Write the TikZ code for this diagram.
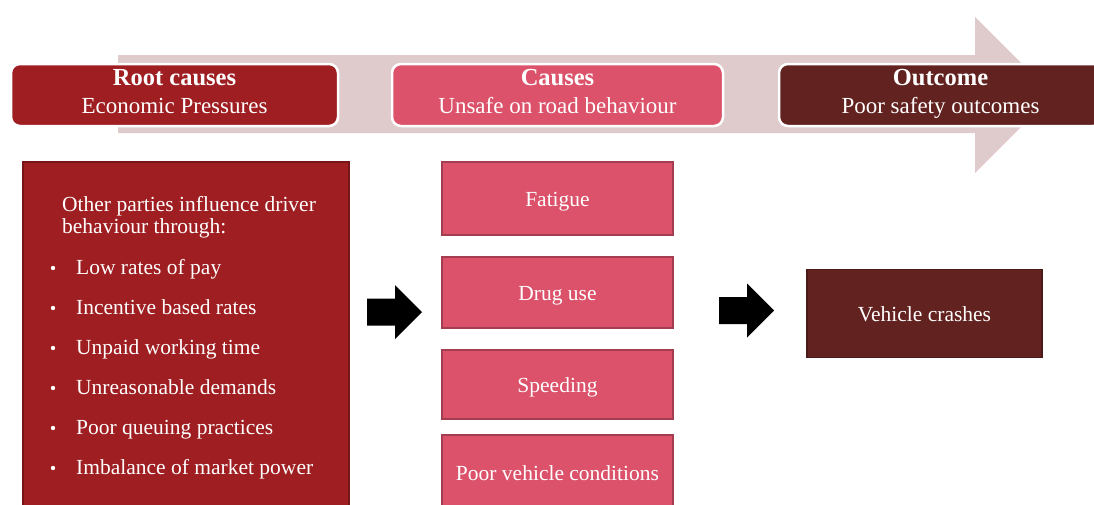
\documentclass[tikz,border=0pt]{standalone}
\usepackage{fontspec}
\setmainfont{Liberation Serif}
\usetikzlibrary{positioning}

\definecolor{bandpink}{RGB}{224,203,204}
\definecolor{rootred}{RGB}{158,30,33}
\definecolor{causepink}{RGB}{219,82,106}
\definecolor{outbrown}{RGB}{98,34,32}

\newcommand{\rchead}{\fontsize{23}{28}\selectfont}
\newcommand{\rctitle}{\fontsize{24.5}{28}\selectfont\bfseries}
\newcommand{\rcbody}{\fontsize{21.5}{22}\selectfont}

\tikzset{
  headbox/.style={rectangle, rounded corners=9pt, draw=white, line width=2.5pt,
                  minimum height=62pt},
  lowbox/.style={rectangle, line width=1.5pt, text=white, font=\rcbody,
                 text height=15pt, text depth=0pt},
  headtext/.style={anchor=base, inner sep=0pt, text=white, font=\rchead},
  bodytext/.style={anchor=base west, inner sep=0pt, text=white, font=\rcbody}
}

\begin{document}
\begin{tikzpicture}[x=1pt, y=-1pt]
        \clip (0,0) rectangle (1094,504);

        % band arrow behind the headers
        \fill[bandpink] (118,55) -- (975,55) -- (975,17) -- (1053,95)
              -- (975,173) -- (975,133) -- (118,133) -- cycle;

        % headers
        \node[headbox, fill=rootred, minimum width=327pt] (root) at (174.5,95) {};
        \node[headbox, fill=causepink, minimum width=331pt] (causes) at (557.5,95) {};
        \node[headbox, fill=outbrown, minimum width=323pt] (outcome) at (940.5,95) {};

        \node[headtext, font=\rctitle] (roottitle) at (174.5,85) {Root causes};
        \node[headtext] (rootsub) at (174.5,113) {Economic Pressures};
        \node[headtext, font=\rctitle] (causetitle) at (557.5,85) {Causes};
        \node[headtext] (causesub) at (557.5,113) {Unsafe on road behaviour};
        \node[headtext, font=\rctitle] (outtitle) at (940.5,85) {Outcome};
        \node[headtext] (outsub) at (940.5,113) {Poor safety outcomes};

        % root causes box
        \node[lowbox, fill=rootred, draw=rootred!75!black,
              minimum width=326pt, minimum height=360pt] (pressures) at (186,342) {};
        \node[bodytext, align=left] (intro) at (62,233)
              {Other parties influence driver\\behaviour through:};
        \foreach \i/\txt in {0/Low rates of pay, 1/Incentive based rates,
                             2/Unpaid working time, 3/Unreasonable demands,
                             4/Poor queuing practices, 5/Imbalance of market power}
        {
          \fill[white] (53,{268+40*\i}) circle (2.2);
          \node[bodytext] (item\i) at (76,{274+40*\i}) {\txt};
        }

        % causes
        \node[lowbox, fill=causepink, draw=causepink!75!black,
              minimum width=231pt, minimum height=73pt] (fatigue) at (557.5,198.5) {Fatigue};
        \node[lowbox, fill=causepink, draw=causepink!75!black,
              minimum width=231pt, minimum height=71pt] (drugs) at (557.5,292.5) {Drug use};
        \node[lowbox, fill=causepink, draw=causepink!75!black,
              minimum width=231pt, minimum height=69pt] (speeding) at (557.5,384.5) {Speeding};
        \node[lowbox, fill=causepink, draw=causepink!75!black,
              minimum width=231pt, minimum height=75pt] (vehicle) at (557.5,472.5) {Poor vehicle conditions};

        % outcome
        \node[lowbox, fill=outbrown, draw=outbrown!75!black,
              minimum width=235pt, minimum height=88pt] (crashes) at (924.5,313.5) {Vehicle crashes};

        % block arrows
        \foreach \ax/\ay in {367/312, 719/310.5}
          \fill (\ax,\ay-13.5) -- ++(28,0) -- ++(0,-13.5) -- ++(27,27)
                -- ++(-27,27) -- ++(0,-13.5) -- ++(-28,0) -- cycle;
\end{tikzpicture}
\end{document}
